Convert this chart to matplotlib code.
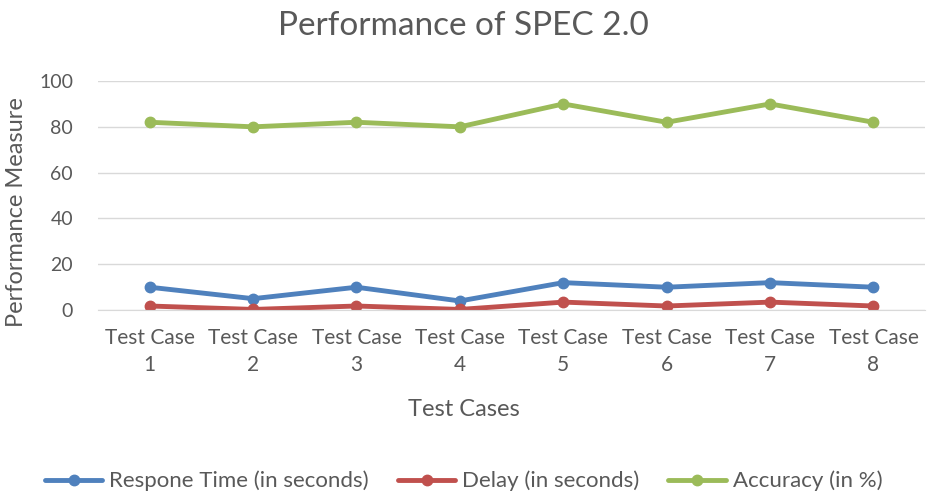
import numpy as np
import matplotlib.pyplot as plt

plt.rcParams['font.family'] = ['Lato', 'DejaVu Sans']

# data
cases = ['Test Case\n1', 'Test Case\n2', 'Test Case\n3', 'Test Case\n4',
         'Test Case\n5', 'Test Case\n6', 'Test Case\n7', 'Test Case\n8']
response_time = [10, 5, 10, 4, 12, 10, 12, 10]
delay = [1.8, 0.3, 1.8, 0.3, 3.5, 1.8, 3.5, 1.8]
accuracy = [82, 80, 82, 80, 90, 82, 90, 82]

series = [
    ('Respone Time (in seconds)', response_time, '#4F81BD'),
    ('Delay (in seconds)', delay, '#C0504D'),
    ('Accuracy (in %)', accuracy, '#9BBB59'),
]
grey = '#595959'

fig = plt.figure(figsize=(9.27, 4.97), dpi=100)
ax = fig.add_axes([0.1057, 0.376, 0.8923, 0.461])

x = np.arange(len(cases))
for name, vals, col in series:
    ax.plot(x, vals, color=col, lw=3.5, marker='o', ms=7.5,
            label=name, solid_capstyle='round')

ax.set_xlim(-0.5, len(cases) - 0.5)
ax.set_ylim(0, 100)
ax.set_yticks(range(0, 101, 20))
ax.set_xticks(x)
ax.set_xticklabels(cases, fontsize=15, color=grey, linespacing=1.4)
ax.tick_params(axis='y', labelsize=14, labelcolor=grey, length=0, pad=18)
ax.tick_params(axis='x', length=0, pad=13)
ax.grid(axis='y', color='#D9D9D9', lw=1)
ax.set_axisbelow(True)
for s in ['top', 'right', 'left']:
    ax.spines[s].set_visible(False)
ax.spines['bottom'].set_color('#D9D9D9')

fig.text(0.5, 1 - 410 / 497, 'Test Cases', fontsize=17, color=grey,
         ha='center', va='center')
fig.text(17 / 927, 1 - 212 / 497, 'Performance Measure', fontsize=17, color=grey,
         ha='center', va='center', rotation=90)
fig.text(0.5, 1 - 26 / 497, 'Performance of SPEC 2.0', fontsize=24, color=grey,
         ha='center', va='center')

fig.legend(loc='center', bbox_to_anchor=(0.5, 1 - 481 / 497), ncol=3, frameon=False,
           fontsize=16, labelcolor=grey, handlelength=2.6, handletextpad=0.3,
           columnspacing=1.3)

fig.savefig('out.png', dpi=100, facecolor='white')
